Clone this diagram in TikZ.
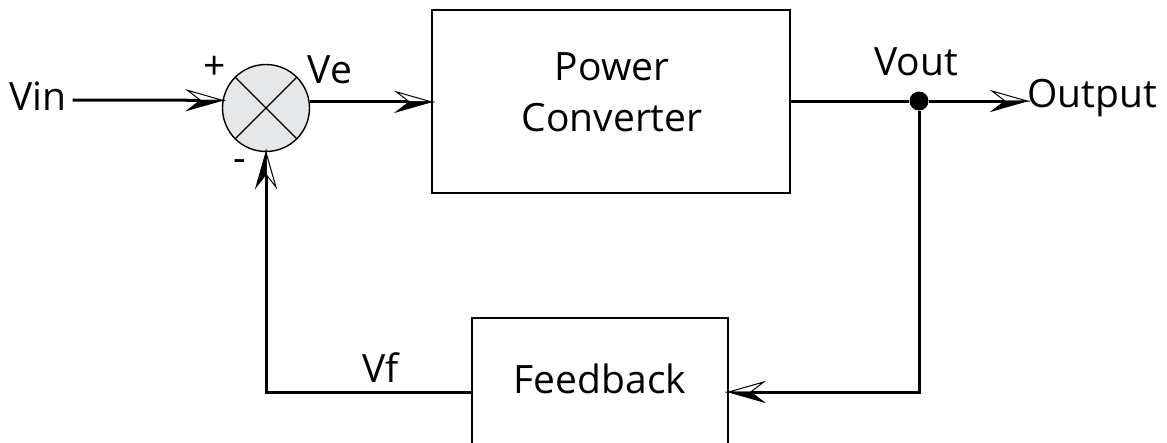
\documentclass[tikz,border=0pt]{standalone}
\usepackage{fontspec}
\setmainfont{Open Sans}
\usetikzlibrary{arrows.meta}
\definecolor{sumgray}{RGB}{230,231,232}
% half-filled chevron tips: HalfR has its dark half on the right of the direction, HalfL on the left
\pgfdeclarearrow{
  name=HalfR,
  setup code={
    \pgfarrowssettipend{0pt}
    \pgfarrowssetlineend{-20pt}
    \pgfarrowssetbackend{-35pt}
    \pgfarrowshullpoint{0pt}{0pt}
    \pgfarrowshullpoint{-35pt}{10pt}
    \pgfarrowshullpoint{-35pt}{-10pt}
  },
  drawing code={
    \pgfsetlinewidth{1pt}
    \pgfsetmiterjoin
    \pgfsetfillcolor{white}
    \pgfpathmoveto{\pgfpoint{0pt}{0pt}}
    \pgfpathlineto{\pgfpoint{-35pt}{10pt}}
    \pgfpathlineto{\pgfpoint{-22pt}{0pt}}
    \pgfpathclose
    \pgfusepathqfillstroke
    \pgfsetfillcolor{black}
    \pgfpathmoveto{\pgfpoint{0pt}{0pt}}
    \pgfpathlineto{\pgfpoint{-35pt}{-10pt}}
    \pgfpathlineto{\pgfpoint{-22pt}{0pt}}
    \pgfpathclose
    \pgfusepathqfillstroke
  }
}
\pgfdeclarearrow{
  name=HalfL,
  setup code={
    \pgfarrowssettipend{0pt}
    \pgfarrowssetlineend{-20pt}
    \pgfarrowssetbackend{-35pt}
    \pgfarrowshullpoint{0pt}{0pt}
    \pgfarrowshullpoint{-35pt}{10pt}
    \pgfarrowshullpoint{-35pt}{-10pt}
  },
  drawing code={
    \pgfsetlinewidth{1pt}
    \pgfsetmiterjoin
    \pgfsetfillcolor{white}
    \pgfpathmoveto{\pgfpoint{0pt}{0pt}}
    \pgfpathlineto{\pgfpoint{-35pt}{-10pt}}
    \pgfpathlineto{\pgfpoint{-22pt}{0pt}}
    \pgfpathclose
    \pgfusepathqfillstroke
    \pgfsetfillcolor{black}
    \pgfpathmoveto{\pgfpoint{0pt}{0pt}}
    \pgfpathlineto{\pgfpoint{-35pt}{10pt}}
    \pgfpathlineto{\pgfpoint{-22pt}{0pt}}
    \pgfpathclose
    \pgfusepathqfillstroke
  }
}
\tikzset{
  lbl/.style={inner sep=0pt, font=\fontsize{39}{51}\selectfont},
  box/.style={draw, line width=1.3pt, inner sep=0pt},
  wire/.style={line width=3pt},
  tipR/.style={-{HalfR}},
  tipL/.style={-{HalfL}},
}
\begin{document}
\begin{tikzpicture}[x=1pt,y=-1pt]
\useasboundingbox (0,0) rectangle (1167,442);
\clip (0,0) rectangle (1167,442);
\node[lbl, anchor=base] (vin) at (38,110) {Vin};
\node[draw, circle, line width=1.4pt, fill=sumgray, minimum size=87pt, inner sep=0pt] (sum) at (266,108) {};
\draw[line width=1.2pt] (sum.45) -- (sum.225) (sum.135) -- (sum.315);
\node[box, minimum width=358pt, minimum height=183pt] (pc) at (611,101.5) {};
\node[lbl, align=center, anchor=base] (pclbl) at (612,131) {Power\\Converter};
\node[circle, fill=black, inner sep=0pt, minimum size=19pt] (dot) at (919,101) {};
\node[lbl, anchor=base west] (out) at (1027,107) {Output};
\node[box, lbl, draw, minimum width=256pt, minimum height=148pt, text height=30pt, text depth=28pt] (fb) at (600,392) {Feedback};
\node[lbl] (plus) at (215,68) {+};
\node[lbl] (minus) at (240,166) {-};
\node[lbl, anchor=base] (ve) at (330,83) {Ve};
\node[lbl, anchor=base] (vout) at (916,75) {Vout};
\node[lbl, anchor=base] (vf) at (381,382) {Vf};
\draw[wire, tipR] ([xshift=6pt]vin.east |- 0,100) -- (sum.170.6);
\draw[wire, tipR] (sum.8) -- (sum.8 -| pc.west);
\draw[wire] (pc.east |- dot) -- (dot);
\draw[wire, tipR] (dot) -- (out.west |- dot);
\draw[wire, tipL] (dot) |- (fb.east);
\draw[wire, tipL] (fb.west) -| (sum.south);
\end{tikzpicture}
\end{document}
